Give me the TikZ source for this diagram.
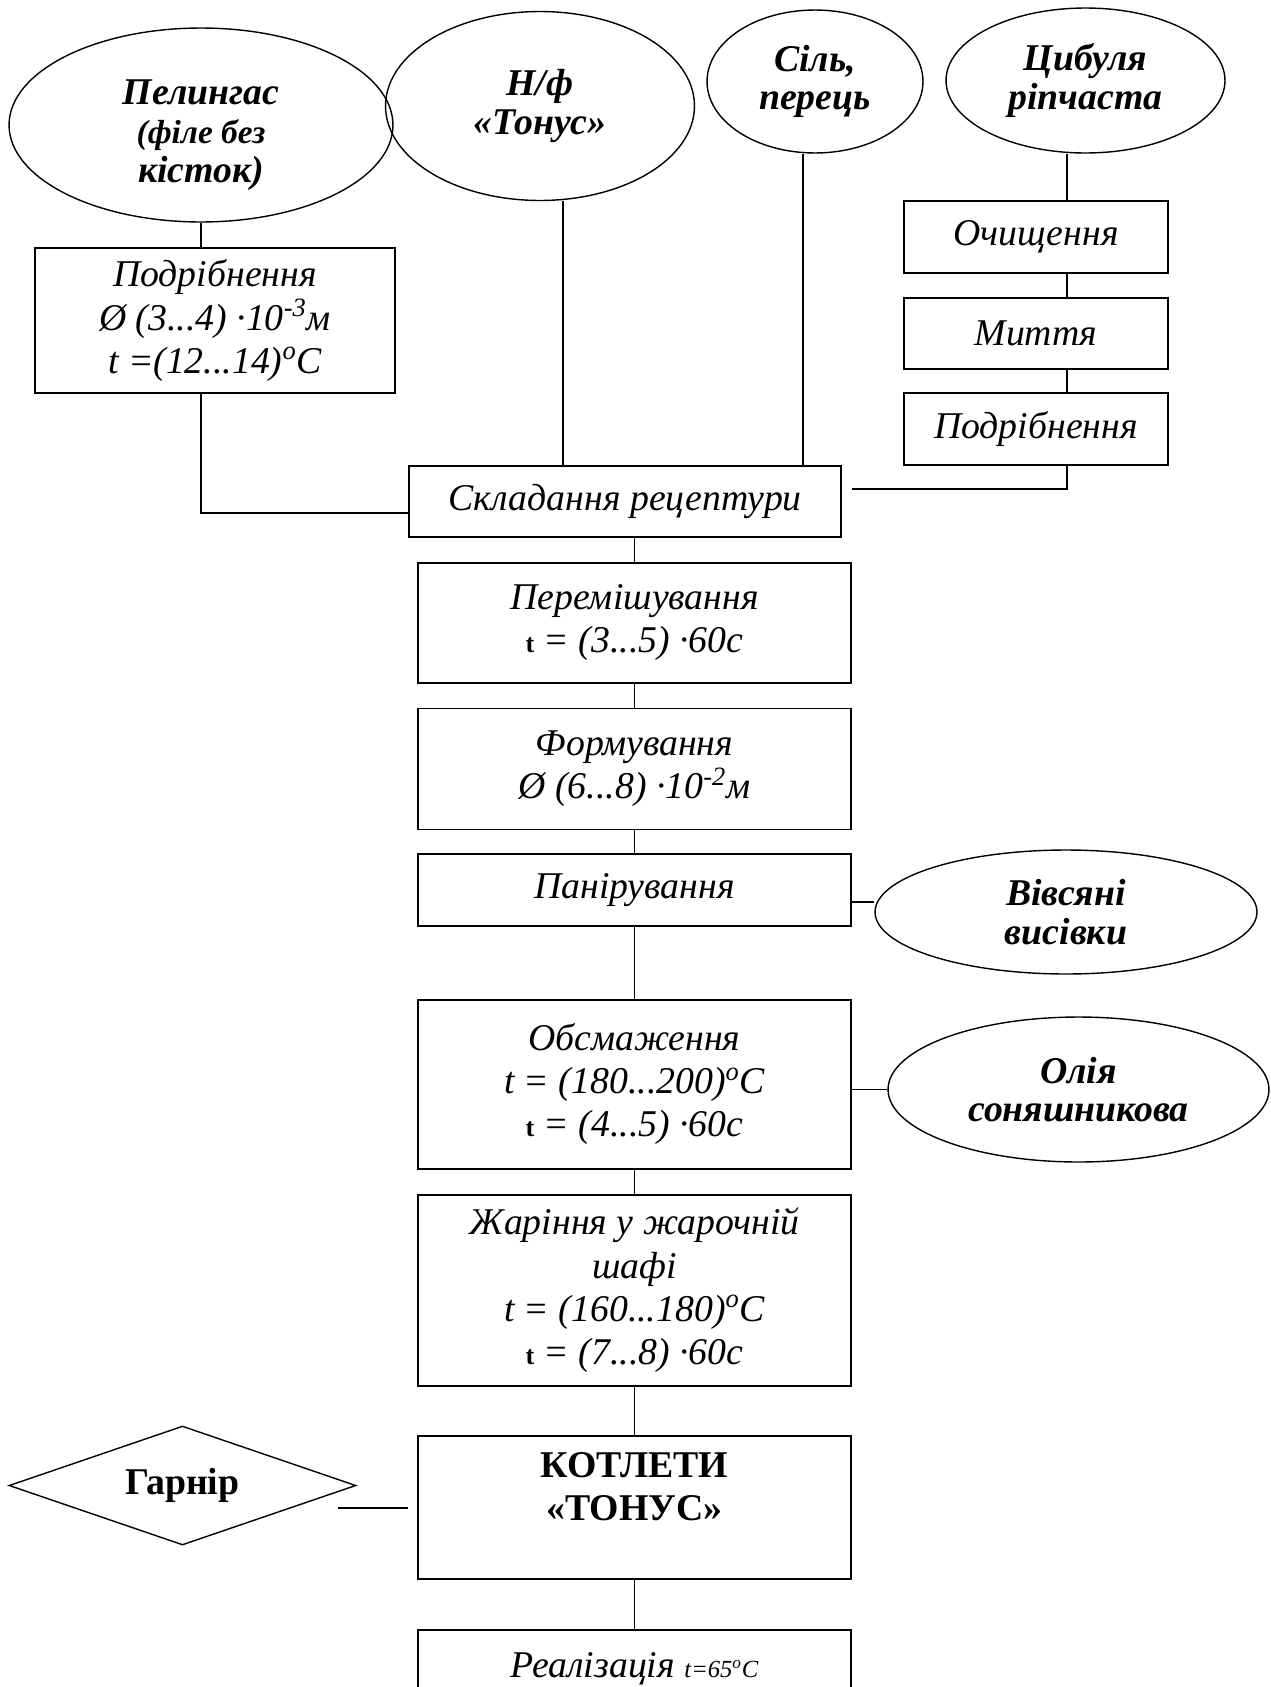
\documentclass[tikz,border=0pt]{standalone}
\usepackage{fontspec}
\setmainfont{Liberation Serif}
\usetikzlibrary{positioning,shapes.geometric}

\newcommand{\tb}{{\upshape\bfseries\fontsize{15}{15}\selectfont t}}

\begin{document}
\begin{tikzpicture}[x=0.02cm,y=-0.02cm,line width=1pt,node distance=0.48cm]
  \tikzstyle{every node}=[font=\fontsize{21.5}{24.5}\selectfont\itshape,inner sep=0pt]
  \tikzstyle{op}=[draw,rectangle,align=center,minimum width=8.66cm]
  \tikzstyle{raw}=[draw,ellipse,align=center,line width=0.8pt,font=\fontsize{21.5}{22}\selectfont\bfseries\itshape]

  \useasboundingbox (0,0) rectangle (1271,1687);

  % raw materials
  \node[raw,minimum width=7.68cm,minimum height=3.88cm] (pel) at (201,125)
    {\rule{0pt}{0.9cm}Пелингас\\\fontsize{19}{21}\selectfont(філе без\\кісток)};
  \node[raw,minimum width=6.18cm,minimum height=3.78cm] (nf) at (540,106) {Н/ф\\«Тонус»};
  \node[raw,minimum width=4.32cm,minimum height=2.86cm] (sil) at (815,81.5) {Сіль,\\перець};
  \node[raw,minimum width=5.58cm,minimum height=2.9cm] (tsyb) at (1085.5,80.5) {Цибуля\\ріпчаста};

  \node[op,minimum width=7.2cm,minimum height=2.9cm] (podr1) at (215,320.5)
    {Подрібнення\\Ø (3...4) ·10\textsuperscript{-3}м\\t =(12...14)\textsuperscript{o}C};

  % onion
  \node[op,minimum width=5.28cm,minimum height=1.44cm] (ochysh) at (1036,237) {Очищення};
  \node[op,minimum width=5.28cm,minimum height=1.42cm] (myttia) at (1036,333.5) {Миття};
  \node[op,minimum width=5.28cm,minimum height=1.44cm] (podr2) at (1036,429) {Подрібнення};

  % main line
  \node[op,minimum width=8.64cm,minimum height=1.42cm] (skl) at (625,501.5) {Складання рецептури};
  \node[op,minimum height=2.4cm] (perem) [below=of skl,xshift=0.19cm]
    {Перемішування\\\tb{} = (3...5) ·60с};
  \node[op,minimum height=2.42cm] (form) [below=of perem]
    {Формування\\Ø (6...8) ·10\textsuperscript{-2}м};
  \node[op,minimum height=1.44cm] (panir) [below=0.46cm of form] {Панірування};
  \node[op,minimum height=3.38cm] (obsm) [below=1.44cm of panir]
    {Обсмаження\\t = (180...200)\textsuperscript{o}C\\\tb{} = (4...5) ·60с};
  \node[op,minimum height=3.82cm] (zhar) [below=of obsm]
    {Жаріння у жарочній\\шафі\\t = (160...180)\textsuperscript{o}C\\\tb{} = (7...8) ·60с};
  \node[op,minimum height=2.86cm,font=\fontsize{21.5}{24.5}\selectfont\bfseries] (kotl) [below=0.98cm of zhar]
    {КОТЛЕТИ\\«ТОНУС»\\\mbox{}};
  \node[op,minimum height=1.56cm] (real) [below=0.98cm of kotl]
    {Реалізація \fontsize{14}{14}\selectfont t=65\textsuperscript{o}C};

  % side inputs
  \node[raw,minimum width=7.64cm,minimum height=2.48cm] (vivs) at (1066,912) {Вівсяні\\висівки};
  \node[raw,minimum width=7.62cm,minimum height=2.9cm] (oliia) at (1078.5,1089.5) {Олія\\соняшникова};
  \node[draw,diamond,aspect=2.9,line width=0.8pt,minimum width=6.94cm,minimum height=2.38cm,
    font=\fontsize{21.5}{24.5}\selectfont\bfseries] (garn) at (182.5,1485.5) {Гарнір};

  \coordinate (onion) at (1067,0);

  \draw (pel.south) -- (pel.south |- podr1.north);
  \draw (pel.south |- podr1.south) |- ([yshift=-0.23cm]skl.west);
  \draw ([xshift=0.46cm]nf.south) -- ([xshift=0.46cm]nf.south |- skl.north);
  \draw ([xshift=-0.24cm]sil.south) -- ([xshift=-0.24cm]sil.south |- skl.north);
  \draw (tsyb.south -| onion) -- (ochysh.north -| onion);
  \draw (ochysh.south -| onion) -- (myttia.north -| onion);
  \draw (myttia.south -| onion) -- (podr2.north -| onion);
  \draw (podr2.south -| onion) |- ([xshift=0.2cm,yshift=0.25cm]skl.east);
  \draw (skl.south -| perem.north) -- (perem.north);

  \path[draw]
  (perem) edge (form)
  (form) edge (panir)
  (panir) edge (obsm)
  (obsm) edge (zhar)
  (zhar) edge (kotl)
  (kotl) edge (real);

  \draw ([yshift=-0.24cm]panir.east) -- ([yshift=-0.24cm]panir.east -| vivs.west);
  \draw (obsm.east |- oliia.west) -- (oliia.west);
  \draw ([xshift=-0.18cm]kotl.west) -- ++(-70,0);
\end{tikzpicture}
\end{document}
